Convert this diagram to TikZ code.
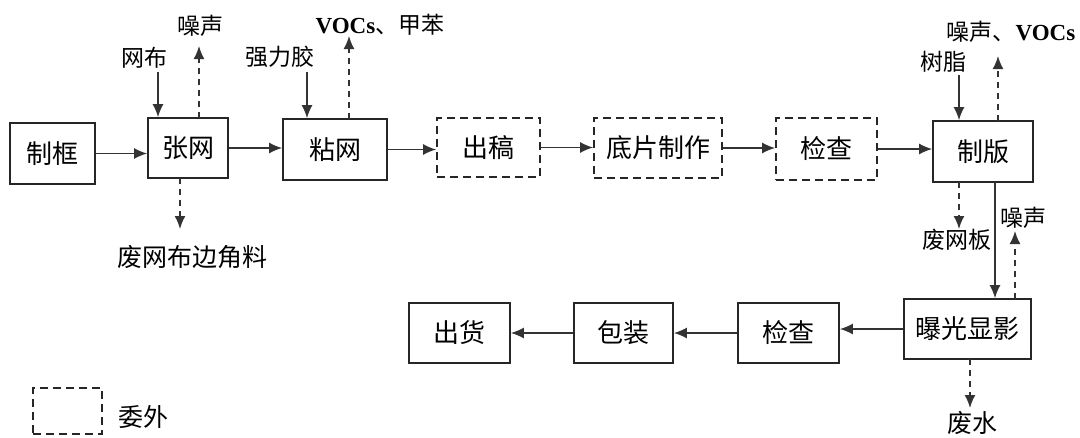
\documentclass[tikz,border=0pt]{standalone}
\usepackage{fontspec}
\setmainfont{Noto Sans CJK SC}
\newfontfamily\latserif{Liberation Serif}
\usetikzlibrary{arrows.meta}
\begin{document}
\begin{tikzpicture}[x=1pt,y=-1pt,
  box/.style={draw=black!85,line width=1.8pt,inner sep=0pt,font=\fontsize{26}{30}\selectfont},
  dbox/.style={box,dash pattern=on 8pt off 5pt},
  lab/.style={inner sep=0pt,font=\fontsize{23}{27}\selectfont},
  labb/.style={inner sep=0pt,font=\fontsize{25}{29}\selectfont},
  flow/.style={draw=black!80,line width=1.4pt,-{Latex[length=13pt,width=11pt]}},
  dflow/.style={flow,line width=1.8pt,dash pattern=on 6pt off 5pt},
]
\useasboundingbox[fill=white] (0,0) rectangle (1080,437);

% boxes
\node[box, minimum width=85pt, minimum height=61pt] (kuang) at (52.5,153.5) {制框};
\node[box, minimum width=80pt, minimum height=60pt] (zhang) at (188,148) {张网};
\node[box, minimum width=104pt, minimum height=61pt] (zhan) at (335,149.5) {粘网};
\node[dbox, minimum width=103pt, minimum height=59pt] (chugao) at (488.5,147.5) {出稿};
\node[dbox, minimum width=128pt, minimum height=60pt] (dipian) at (658,148) {底片制作};
\node[dbox, minimum width=101pt, minimum height=62pt] (jc1) at (826.5,149) {检查};
\node[box, minimum width=100pt, minimum height=61pt] (zhiban) at (983,151.5) {制版};
\node[box, minimum width=127pt, minimum height=60pt] (bg) at (967.5,329) {曝光显影};
\node[box, minimum width=101pt, minimum height=60pt] (jc2) at (788.5,333) {检查};
\node[box, minimum width=99pt, minimum height=60pt] (bz) at (623.5,333) {包装};
\node[box, minimum width=101pt, minimum height=60pt] (ch) at (459.5,333) {出货};
\node[dbox, minimum width=69pt, minimum height=46pt] (leg) at (67.5,411) {};

% labels
\node[lab] (zs1) at (200,26) {噪声};
\node[lab] (wb) at (144,58) {网布};
\node[labb] (fwb) at (192,257) {废网布边角料};
\node[lab] (qlj) at (280,57) {强力胶};
\node[lab] (voc1) at (380,25) {{\latserif\bfseries VOCs}、甲苯};
\node[lab] (sz) at (943,62) {树脂};
\node[lab] (voc2) at (1011,32) {噪声、{\latserif\bfseries VOCs}};
\node[lab] (fwbn) at (957,240) {废网板};
\node[lab] (zs2) at (1023,218) {噪声};
\node[labb] (fs) at (972,423) {废水};
\node[labb] (ww) at (143,417) {委外};

% horizontal flow
\draw[flow] (kuang.east) -- (kuang.east -| zhang.west);
\draw[flow] (zhang.east) -- (zhang.east -| zhan.west);
\draw[flow] (zhan.east) -- (zhan.east -| chugao.west);
\draw[flow] (chugao.east) -- (chugao.east -| dipian.west);
\draw[flow] (dipian.east) -- (dipian.east -| jc1.west);
\draw[flow] (jc1.east) -- (jc1.east -| zhiban.west);
\draw[flow] (bg.west) -- (bg.west -| jc2.east);
\draw[flow] (jc2.west) -- (jc2.west -| bz.east);
\draw[flow] (bz.west) -- (bz.west -| ch.east);

% vertical inputs / outputs
\coordinate (wbs) at (158,72);
\draw[flow] (wbs) -- (wbs |- zhang.north);
\coordinate (zs1s) at (199,118);
\draw[dflow] (zs1s) -- (199,46) coordinate (zs1e);
\coordinate (fwbs) at (180,178);
\draw[dflow] (fwbs) -- (180,229) coordinate (fwbe);
\coordinate (qljs) at (307,72);
\draw[flow] (qljs) -- (qljs |- zhan.north);
\coordinate (voc1s) at (349,119);
\draw[dflow] (voc1s) -- (349,36) coordinate (voc1e);
\coordinate (szs) at (959,75);
\draw[flow] (szs) -- (szs |- zhiban.north);
\coordinate (voc2s) at (998,121);
\draw[dflow] (voc2s) -- (998,56) coordinate (voc2e);
\coordinate (fwbns) at (959,182);
\draw[dflow] (fwbns) -- (959,229) coordinate (fwbne);
\coordinate (zbd) at (995,182);
\draw[flow] (zbd) -- (zbd |- bg.north);
\coordinate (zs2s) at (1015,299);
\draw[dflow] (zs2s) -- (1015,231) coordinate (zs2e);
\coordinate (fss) at (970,359);
\draw[dflow] (fss) -- (970,408) coordinate (fse);
\end{tikzpicture}
\end{document}
